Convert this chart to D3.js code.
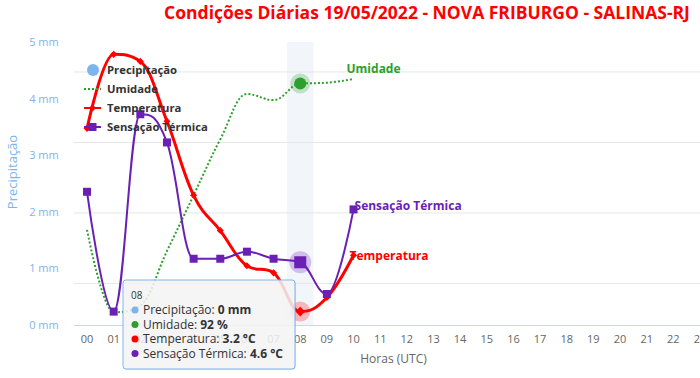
<!DOCTYPE html>
<html>
<head>
<meta charset="utf-8">
<script src="https://cdn.jsdelivr.net/npm/d3@7"></script>
<style>
    body { margin: 0; background: #fff; }
    svg { display: block; font-family: 'Open Sans', sans-serif; }
</style>
</head>
<body>
<svg id="chart" width="700" height="378"></svg>
<script>
// horas do dia (eixo x)
let hours = d3.range(24).map(h => (h < 10 ? '0' : '') + h)
// valores medidos de 00 a 10 UTC
let precipitacao = [0, 0, 0, 0, 0, 0, 0, 0, 0, 0, 0]
let umidade = [72.6, 61.7, 62.6, 69.8, 77.2, 84.6, 90.6, 89.8, 92, 92.1, 92.6]
let temperatura = [8.4, 10.5, 10.3, 8.6, 6.5, 5.5, 4.5, 4.3, 3.2, 3.6, 4.8]
let sensacao = [6.6, 3.2, 8.8, 8.0, 4.7, 4.7, 4.9, 4.7, 4.6, 3.7, 6.1]
let precipTicks = [0, 1, 2, 3, 4, 5]
let tempGrid = [4, 6, 8, 10]
let hoverIndex = 8

let colors = {
    precip: '#7cb5ec',
    umidade: '#2ca02c',
    temp: '#ff0000',
    sens: '#6a1fb5',
}

let svg = d3.select('#chart')
let plot = {left: 73.7, right: 713.3, top: 42, bottom: 325}

let x = d3.scaleBand().domain(hours).range([plot.left, plot.right])
let cx = h => x(h) + x.bandwidth() / 2
let yPrecip = d3.scaleLinear().domain([0, 5]).range([plot.bottom, plot.top])
let yTemp = d3.scaleLinear().domain([2.82, 10.85]).range([plot.bottom, plot.top])
let yUmid = d3.scaleLinear().domain([60, 97.5]).range([plot.bottom, plot.top])

// spline no estilo do Highcharts (smoothing 1.5)
function splinePath(pts) {
    let out = 'M' + pts[0][0] + ',' + pts[0][1]
    let conts = pts.map((p, i) => {
        let prev = pts[i - 1], next = pts[i + 1]
        if (!prev || !next) return {l: p, r: p}
        let lx = (1.5 * p[0] + prev[0]) / 2.5, ly = (1.5 * p[1] + prev[1]) / 2.5
        let rx = (1.5 * p[0] + next[0]) / 2.5, ry = (1.5 * p[1] + next[1]) / 2.5
        if (rx !== lx) {
            let corr = ((ry - ly) * (rx - p[0])) / (rx - lx) + p[1] - ry
            ly += corr
            ry += corr
        }
        if (ly > prev[1] && ly > p[1]) { ly = Math.max(prev[1], p[1]); ry = 2 * p[1] - ly }
        else if (ly < prev[1] && ly < p[1]) { ly = Math.min(prev[1], p[1]); ry = 2 * p[1] - ly }
        if (ry > next[1] && ry > p[1]) { ry = Math.max(next[1], p[1]); ly = 2 * p[1] - ry }
        else if (ry < next[1] && ry < p[1]) { ry = Math.min(next[1], p[1]); ly = 2 * p[1] - ry }
        return {l: [lx, ly], r: [rx, ry]}
    })
    for (let i = 1; i < pts.length; i++) {
        out += 'C' + conts[i - 1].r + ' ' + conts[i].l + ' ' + pts[i]
    }
    return out
}

// faixa do ponto em destaque
svg.append('rect')
    .attr('x', x(hours[hoverIndex]))
    .attr('y', plot.top)
    .attr('width', x.bandwidth())
    .attr('height', plot.bottom - plot.top)
    .attr('fill', 'rgba(204,214,235,0.25)')

// grade (eixo de temperatura, oculto)
svg.append('g').selectAll('line')
    .data(tempGrid)
    .enter().append('line')
    .attr('x1', plot.left).attr('x2', plot.right)
    .attr('y1', d => yTemp(d)).attr('y2', d => yTemp(d))
    .attr('stroke', '#e6e6e6')

// eixo x
let xAxis = svg.append('g')
    .attr('transform', 'translate(0,' + plot.bottom + ')')
    .call(d3.axisBottom(x).tickSize(0).tickPadding(10))
xAxis.select('.domain').attr('stroke', '#ccd6eb')
xAxis.selectAll('text')
    .attr('fill', '#666')
    .style('font-size', '11px')
    .style('font-family', 'Open Sans')

svg.append('text')
    .attr('x', (plot.left + plot.right) / 2)
    .attr('y', 363)
    .attr('text-anchor', 'middle')
    .attr('fill', '#666')
    .style('font-size', '12px')
    .text('Horas (UTC)')

// eixo de precipitação
let yAxis = svg.append('g')
    .attr('transform', 'translate(' + (plot.left - 8) + ',0)')
    .call(d3.axisLeft(yPrecip).tickValues(precipTicks).tickSize(0).tickPadding(7)
        .tickFormat(d => d + ' mm'))
yAxis.select('.domain').remove()
yAxis.selectAll('text')
    .attr('fill', colors.precip)
    .style('font-size', '11px')
    .style('font-family', 'Open Sans')

svg.append('text')
    .attr('transform', 'translate(17,172) rotate(-90)')
    .attr('text-anchor', 'middle')
    .attr('fill', colors.precip)
    .style('font-size', '13px')
    .text('Precipitação')

// título
svg.append('text')
    .attr('x', 427)
    .attr('y', 19)
    .attr('text-anchor', 'middle')
    .attr('fill', '#ff0000')
    .style('font-size', '17.5px')
    .style('font-weight', 'bold')
    .text('Condições Diárias 19/05/2022 - NOVA FRIBURGO - SALINAS-RJ')

// precipitação (colunas, todas zero)
svg.append('g').selectAll('rect')
    .data(precipitacao)
    .enter().append('rect')
    .attr('x', (d, i) => x(hours[i]) + 4)
    .attr('width', x.bandwidth() - 8)
    .attr('y', d => yPrecip(d))
    .attr('height', d => plot.bottom - yPrecip(d))
    .attr('fill', colors.precip)

let umidPts = umidade.map((d, i) => [cx(hours[i]), yUmid(d)])
let tempPts = temperatura.map((d, i) => [cx(hours[i]), yTemp(d)])
let sensPts = sensacao.map((d, i) => [cx(hours[i]), yTemp(d)])

svg.append('path')
    .attr('d', splinePath(umidPts))
    .attr('fill', 'none')
    .attr('stroke', colors.umidade)
    .attr('stroke-width', 2)
    .attr('stroke-dasharray', '2,2')

svg.append('path')
    .attr('d', splinePath(tempPts))
    .attr('fill', 'none')
    .attr('stroke', colors.temp)
    .attr('stroke-width', 3)

svg.append('path')
    .attr('d', splinePath(sensPts))
    .attr('fill', 'none')
    .attr('stroke', colors.sens)
    .attr('stroke-width', 2)

let diamond = d3.symbol().type(d3.symbolDiamond2)

svg.append('g').selectAll('path')
    .data(tempPts.filter((d, i) => i !== hoverIndex))
    .enter().append('path')
    .attr('transform', d => 'translate(' + d + ')')
    .attr('d', diamond.size(32))
    .attr('fill', colors.temp)

svg.append('g').selectAll('rect')
    .data(sensPts.filter((d, i) => i !== hoverIndex))
    .enter().append('rect')
    .attr('x', d => d[0] - 4).attr('y', d => d[1] - 4)
    .attr('width', 8).attr('height', 8)
    .attr('fill', colors.sens)

// rótulos no último ponto
let last = umidade.length - 1
let endLabels = [
    {text: 'Umidade', pt: umidPts[last], color: colors.umidade, dx: -7, dy: -6},
    {text: 'Sensação Térmica', pt: sensPts[last], color: colors.sens, dx: 1, dy: 1},
    {text: 'Temperatura', pt: tempPts[last], color: colors.temp, dx: -4, dy: 5},
]
svg.append('g').selectAll('text')
    .data(endLabels)
    .enter().append('text')
    .attr('x', d => d.pt[0] + d.dx)
    .attr('y', d => d.pt[1] + d.dy)
    .attr('fill', d => d.color)
    .style('font-size', '12px')
    .style('font-weight', 'bold')
    .text(d => d.text)

// legenda
let legendItems = [
    {name: 'Precipitação', color: colors.precip, kind: 'circle'},
    {name: 'Umidade', color: colors.umidade, kind: 'dot'},
    {name: 'Temperatura', color: colors.temp, kind: 'diamond'},
    {name: 'Sensação Térmica', color: colors.sens, kind: 'square'},
]
let legend = svg.append('g').attr('transform', 'translate(84,70)')
let item = legend.selectAll('g')
    .data(legendItems)
    .enter().append('g')
    .attr('transform', (d, i) => 'translate(0,' + i * 19 + ')')
item.filter(d => d.kind === 'circle').append('circle')
    .attr('cx', 9).attr('r', 6).attr('fill', d => d.color)
item.filter(d => d.kind !== 'circle').append('line')
    .attr('x1', 0).attr('x2', 17)
    .attr('stroke', d => d.color)
    .attr('stroke-width', 2)
    .attr('stroke-dasharray', d => d.kind === 'dot' ? '2,2' : null)
item.filter(d => d.kind === 'diamond').append('path')
    .attr('transform', 'translate(8.5,0)')
    .attr('d', diamond.size(32))
    .attr('fill', d => d.color)
item.filter(d => d.kind === 'square').append('rect')
    .attr('x', 4.5).attr('y', -4).attr('width', 8).attr('height', 8)
    .attr('fill', d => d.color)
item.append('text')
    .attr('x', 23).attr('y', 4)
    .attr('fill', '#333')
    .style('font-size', '11.3px')
    .style('font-weight', 'bold')
    .text(d => d.name)

// pontos em destaque (hover)
let hover = svg.append('g')
let hu = umidPts[hoverIndex], ht = tempPts[hoverIndex], hs = sensPts[hoverIndex]
hover.append('circle').attr('cx', hu[0]).attr('cy', hu[1]).attr('r', 10)
    .attr('fill', colors.umidade).attr('opacity', 0.25)
hover.append('circle').attr('cx', hu[0]).attr('cy', hu[1]).attr('r', 6)
    .attr('fill', colors.umidade)
hover.append('circle').attr('cx', hs[0]).attr('cy', hs[1]).attr('r', 11)
    .attr('fill', colors.sens).attr('opacity', 0.25)
hover.append('rect').attr('x', hs[0] - 6).attr('y', hs[1] - 6)
    .attr('width', 12).attr('height', 12).attr('fill', colors.sens)
hover.append('circle').attr('cx', ht[0]).attr('cy', ht[1]).attr('r', 10)
    .attr('fill', colors.temp).attr('opacity', 0.25)
hover.append('path').attr('transform', 'translate(' + ht + ')')
    .attr('d', diamond.size(60)).attr('fill', colors.temp)

// tooltip
let tip = svg.append('g').attr('transform', 'translate(123,280)')
tip.append('rect')
    .attr('x', 1).attr('y', 1).attr('width', 172).attr('height', 89).attr('rx', 3)
    .attr('fill', 'rgba(0,0,0,0.08)')
tip.append('rect')
    .attr('width', 172).attr('height', 89).attr('rx', 3)
    .attr('fill', 'rgba(247,247,247,0.85)')
    .attr('stroke', colors.precip)
tip.append('text')
    .attr('x', 8).attr('y', 19)
    .attr('fill', '#333')
    .style('font-size', '10px')
    .text(hours[hoverIndex])
let tipRows = [
    {name: 'Precipitação', value: precipitacao[hoverIndex] + ' mm', color: colors.precip},
    {name: 'Umidade', value: umidade[hoverIndex] + ' %', color: colors.umidade},
    {name: 'Temperatura', value: temperatura[hoverIndex] + ' °C', color: colors.temp},
    {name: 'Sensação Térmica', value: sensacao[hoverIndex] + ' °C', color: colors.sens},
]
let row = tip.selectAll('g.row')
    .data(tipRows)
    .enter().append('g')
    .attr('class', 'row')
    .attr('transform', (d, i) => 'translate(8,' + (34 + i * 14.5) + ')')
row.append('circle').attr('cx', 4).attr('cy', -4).attr('r', 3.5).attr('fill', d => d.color)
let rowText = row.append('text')
    .attr('x', 12)
    .attr('fill', '#333')
    .style('font-size', '12px')
rowText.append('tspan').text(d => d.name + ': ')
rowText.append('tspan').style('font-weight', 'bold').text(d => d.value)
</script>
</body>
</html>
